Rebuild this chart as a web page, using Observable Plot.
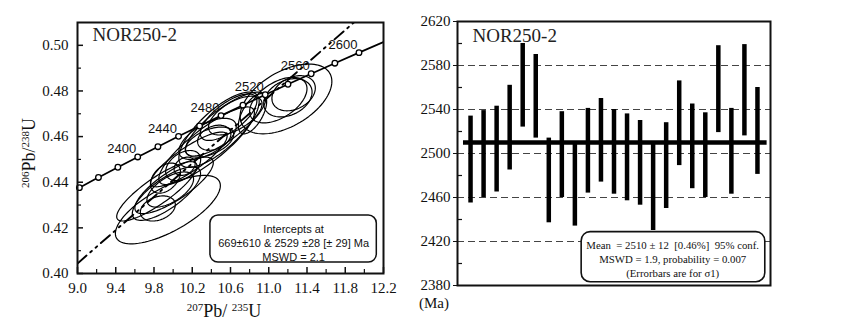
<!DOCTYPE html>
<html><head><meta charset="utf-8">
<script src="https://cdn.jsdelivr.net/npm/d3@7"></script>
<script src="https://cdn.jsdelivr.net/npm/@observablehq/plot@0.6"></script>
<style>
body{margin:0;background:#fff;}
#wrap{position:relative;width:849px;height:327px;overflow:hidden;background:#fff;}
#left svg, #right svg{font-family:"Liberation Serif", serif !important;}
.lab{position:absolute;font-family:"Liberation Serif",serif;color:#111;white-space:nowrap;font-size:18px;line-height:18px;}
.lab sup{font-size:11px;vertical-align:0;position:relative;top:-6px;}
</style></head><body>
<div id="wrap">
  <div id="left" style="position:absolute;left:0;top:0"></div>
  <div id="right" style="position:absolute;left:400px;top:0"></div>
  <div class="lab" id="xlab" style="left:224px;top:312px;transform:translate(-50%,-50%)"><sup>207</sup>Pb/ <sup>235</sup>U</div>
  <div class="lab" id="ylab" style="left:30px;top:153px;transform:translate(-50%,-50%) rotate(-90deg)"><sup>206</sup>Pb/<sup>238</sup>U</div>
  <div class="lab" id="ma" style="left:419px;top:294px;font-size:15px;">(Ma)</div>
</div>
<script>
// ---------- Left panel data (concordia) ----------
const conAge = [2340, 2360, 2380, 2400, 2420, 2440, 2460, 2480, 2500, 2520, 2540, 2560, 2580, 2600];
const conX = [9.0197, 9.2190, 9.4222, 9.6296, 9.8410, 10.0567, 10.2766, 10.5010, 10.7297, 10.9631, 11.2010, 11.4437, 11.6913, 11.9437];
const conY = [0.43763, 0.44209, 0.44657, 0.45107, 0.45558, 0.46010, 0.46464, 0.46919, 0.47375, 0.47833, 0.48293, 0.48754, 0.49216, 0.49679];
const conEndX = [9.0, 12.2012];
const conEndY = [0.4372, 0.50145];
const labelAges = [2400, 2440, 2480, 2520, 2560, 2600];
const discX = [9.0, 11.89];
const discY = [0.4044, 0.51];
// error ellipses: centre, half-widths, correlation
const elX  = [9.945, 9.84, 9.93, 10.01, 9.97, 9.92, 9.83, 10.165, 10.105, 10.12, 10.38, 10.43, 10.48, 10.35, 10.36, 10.58, 10.65, 10.83, 10.55, 11.18, 11.20, 11.26, 11.10];
const elSX = [0.549, 0.183, 0.357, 0.41, 0.244, 0.157, 0.42, 0.40, 0.183, 0.11, 0.253, 0.174, 0.42, 0.50, 0.30, 0.296, 0.28, 0.148, 0.42, 0.48, 0.253, 0.227, 0.30];
const elY  = [0.4280, 0.4285, 0.4350, 0.4386, 0.4368, 0.4418, 0.4360, 0.4500, 0.4473, 0.4470, 0.4576, 0.4595, 0.4630, 0.4560, 0.4590, 0.4685, 0.4692, 0.4700, 0.4655, 0.4765, 0.4770, 0.4790, 0.4760];
const elSY = [0.0150, 0.0055, 0.0117, 0.0124, 0.0077, 0.0066, 0.0130, 0.0120, 0.0066, 0.0040, 0.0066, 0.0055, 0.0165, 0.0170, 0.0090, 0.0102, 0.0085, 0.0088, 0.0140, 0.0153, 0.0084, 0.0077, 0.0100];
const elRho = [0.70, 0.30, 0.75, 0.80, 0.60, 0.40, 0.85, 0.85, 0.40, 0.30, 0.50, 0.30, 0.75, 0.85, 0.60, 0.70, 0.60, 0.60, 0.80, 0.50, 0.30, 0.30, 0.50];
const xTicks = [9.0, 9.4, 9.8, 10.2, 10.6, 11.0, 11.4, 11.8, 12.2];
const xMinor = [9.2, 9.6, 10.0, 10.4, 10.8, 11.2, 11.6, 12.0];
const yTicks = [0.40, 0.42, 0.44, 0.46, 0.48, 0.50];
const yMinor = [0.41, 0.43, 0.45, 0.47, 0.49];
const leftTitle = "NOR250-2";
const interceptText = ["Intercepts at", "669\u00b1610 & 2529 \u00b128 [\u00b1 29] Ma", "MSWD = 2.1"];

// ---------- Right panel data (weighted mean) ----------
const spotIdx = [1,2,3,4,5,6,7,8,9,10,11,12,13,14,15,16,17,18,19,20,21,22,23];
const ageHi = [2534, 2539, 2543, 2562, 2600, 2590, 2514, 2538, 2509, 2541, 2550, 2540, 2536, 2530, 2509, 2528, 2566, 2545, 2537, 2598, 2541, 2599, 2560];
const ageLo = [2455, 2460, 2465, 2485, 2524, 2514, 2437, 2460, 2434, 2464, 2474, 2463, 2457, 2453, 2430, 2450, 2489, 2468, 2460, 2519, 2463, 2516, 2481];
const meanAge = 2510;
const ageTicks = [2380, 2420, 2460, 2500, 2540, 2580, 2620];
const ageMinor = [2400, 2440, 2480, 2520, 2560, 2600];
const gridAges = [2420, 2460, 2500, 2540, 2580];
const rightTitle = "NOR250-2";
const meanText = ["Mean\u00a0\u00a0= 2510 \u00b1 12\u00a0\u00a0[0.46%]\u00a0\u00a095% conf.", "MSWD = 1.9, probability = 0.007", "(Errorbars are for \u03c31)"];

// ---------- build left ----------
const con = conX.map((x, i) => ({x, y: conY[i], age: conAge[i]}));
const conLine = [{x: conEndX[0], y: conEndY[0]}, ...con, {x: conEndX[1], y: conEndY[1]}];
const disc = discX.map((x, i) => ({x, y: discY[i]}));
const ellPts = [];
elX.forEach((cx, i) => {
  const r = elRho[i], q = Math.sqrt(1 - r * r);
  for (let k = 0; k <= 90; k++) {
    const t = 2 * Math.PI * k / 90;
    ellPts.push({id: i, x: cx + elSX[i] * Math.cos(t), y: elY[i] + elSY[i] * (r * Math.cos(t) + q * Math.sin(t))});
  }
});
const LW = 400, LH = 327, LML = 77, LMR = 17, LMT = 22, LMB = 54;
const lpw = LW - LML - LMR, lph = LH - LMT - LMB;
const sans = "Liberation Sans, Arial, sans-serif";
const serif = "Liberation Serif, serif";

const left = Plot.plot({
  width: LW, height: LH, marginLeft: LML, marginRight: LMR, marginTop: LMT, marginBottom: LMB,
  style: {fontFamily: serif, fontSize: "15px", color: "#111", background: "transparent", overflow: "visible"},
  x: {domain: [9, 12.2], ticks: xTicks, tickFormat: d => d.toFixed(1), tickSize: 0, tickPadding: 9, label: null},
  y: {domain: [0.40, 0.51], ticks: yTicks, tickFormat: d => d.toFixed(2), tickSize: 0, tickPadding: 9, label: null},
  marks: [
    Plot.ruleX(xTicks, {x: d => d, insetTop: lph - 6, stroke: "#111", strokeWidth: 1.5}),
    Plot.ruleX(xMinor, {x: d => d, insetTop: lph - 4, stroke: "#111", strokeWidth: 1.2}),
    Plot.ruleY(yTicks, {y: d => d, insetRight: lpw - 6, stroke: "#111", strokeWidth: 1.5}),
    Plot.ruleY(yMinor, {y: d => d, insetRight: lpw - 4, stroke: "#111", strokeWidth: 1.2}),
    Plot.line(ellPts, {x: "x", y: "y", z: "id", stroke: "#000", strokeWidth: 1.2, clip: true}),
    Plot.line(disc, {x: "x", y: "y", stroke: "#000", strokeWidth: 1.9, strokeDasharray: "12,5,2,5,2,5", clip: true}),
    Plot.line(conLine, {x: "x", y: "y", curve: "natural", stroke: "#000", strokeWidth: 1.7, clip: true}),
    Plot.dot(con, {x: "x", y: "y", r: 2.8, stroke: "#000", fill: "white", strokeWidth: 1.3}),
    Plot.text(con.filter(d => labelAges.includes(d.age)), {x: "x", y: "y", text: d => String(d.age), dx: -16, dy: -8, fontFamily: sans, fontSize: 13, fill: "#111"}),
    Plot.rect([{x1: 10.39, x2: 12.13, y1: 0.4048, y2: 0.4254}], {x1: "x1", x2: "x2", y1: "y1", y2: "y2", rx: 8, fill: "white", stroke: "#111", strokeWidth: 1.5}),
    Plot.text([interceptText.join("\n")], {x: () => 11.26, y: () => 0.4136, text: d => d, fontFamily: sans, fontSize: 11, lineHeight: 1.3, fill: "#111"}),
    Plot.text([leftTitle], {frameAnchor: "top-left", textAnchor: "start", lineAnchor: "middle", dx: 15, dy: 12, fontFamily: serif, fontSize: 19, fill: "#222"}),
    Plot.frame({stroke: "#111", strokeWidth: 2})
  ]
});
document.getElementById("left").appendChild(left);

// ---------- build right ----------
const RW = 449, RH = 327, RML = 57, RMR = 79, RMT = 21, RMB = 42;
const rpw = RW - RML - RMR;
const spots = spotIdx.map((i, k) => ({i, hi: ageHi[k], lo: ageLo[k]}));
const right = Plot.plot({
  width: RW, height: RH, marginLeft: RML, marginRight: RMR, marginTop: RMT, marginBottom: RMB,
  style: {fontFamily: serif, fontSize: "15px", color: "#111", background: "transparent", overflow: "visible"},
  x: {domain: [0, 24], axis: null},
  y: {domain: [2380, 2620], ticks: ageTicks, tickFormat: d => String(d), tickSize: 4, tickPadding: 3, label: null},
  marks: [
    Plot.ruleY(gridAges, {y: d => d, stroke: "#444", strokeWidth: 1.2, strokeDasharray: "7,4"}),
    Plot.ruleY(ageMinor, {y: d => d, insetRight: rpw - 5, stroke: "#111", strokeWidth: 1.2}),
    Plot.ruleX(spots, {x: "i", y1: "lo", y2: "hi", stroke: "#000", strokeWidth: 4.5}),
    Plot.ruleY([meanAge], {y: d => d, x1: () => 0.46, x2: () => 23.74, stroke: "#000", strokeWidth: 4.5}),
    Plot.rect([{x1: 9.52, x2: 23.6, y1: 2383, y2: 2428.5}], {x1: "x1", x2: "x2", y1: "y1", y2: "y2", rx: 9, fill: "white", stroke: "#111", strokeWidth: 1.6}),
    Plot.text([meanText.join("\n")], {x: () => 16.5, y: () => 2404.5, text: d => d, fontFamily: serif, fontSize: 10.8, lineHeight: 1.32, fill: "#111"}),
    Plot.text([rightTitle], {frameAnchor: "top-left", textAnchor: "start", lineAnchor: "middle", dx: 15, dy: 14, fontFamily: serif, fontSize: 19, fill: "#222"}),
    Plot.frame({stroke: "#111", strokeWidth: 2})
  ]
});
document.getElementById("right").appendChild(right);
</script>
</body></html>
